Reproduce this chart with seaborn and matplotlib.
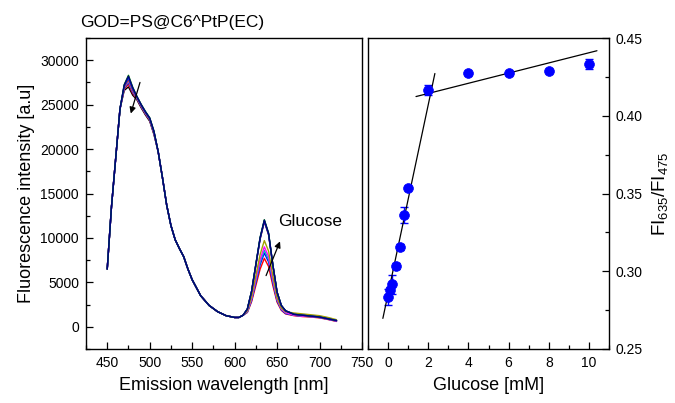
import numpy as np
import pandas as pd
import matplotlib
matplotlib.use("Agg")
import matplotlib.pyplot as plt
import seaborn as sns
from matplotlib.ticker import MultipleLocator

sns.set_theme(style="ticks")
plt.rcParams['font.family'] = ['Liberation Sans', 'DejaVu Sans']
plt.rcParams['mathtext.fontset'] = 'custom'
plt.rcParams['mathtext.rm'] = 'Liberation Sans'
plt.rcParams['mathtext.it'] = 'Liberation Sans:italic'
plt.rcParams['text.color'] = 'black'
plt.rcParams['axes.labelcolor'] = 'black'
plt.rcParams['xtick.color'] = 'black'
plt.rcParams['ytick.color'] = 'black'

# ---------------- data: spectra ----------------
wavelength = [450, 455, 460, 465, 470, 475, 480, 485, 490, 495, 500, 505, 510, 515, 520, 525,
              530, 535, 540, 545, 550, 560, 570, 580, 590, 600, 605, 610, 615, 620, 625, 630,
              635, 640, 645, 650, 655, 660, 670, 680, 690, 700, 710, 720]

spec_black = [6500, 13500, 19000, 24500, 26600, 27000, 26060, 25540, 24640, 23840, 23140, 21640,
              19700, 16800, 13700, 11400, 9800, 8800, 7900, 6500, 5300, 3500, 2400, 1700, 1250, 1050, 1050, 1300,
              1990, 3980, 6950, 9900, 11900, 10400, 6950, 3880, 2390, 1790, 1400, 1300, 1200, 1100, 900, 700]
spec_red = [6500, 13500, 19000, 24500, 26750, 27300, 26270, 25630, 24730, 23930, 23230, 21730,
            19700, 16800, 13700, 11400, 9800, 8800, 7900, 6500, 5300, 3500, 2400, 1700, 1250, 1050, 1050, 1300,
            1610, 2830, 4650, 6480, 7700, 6790, 4650, 2770, 1850, 1450, 1250, 1150, 1100, 1000, 820, 600]
spec_blue = [6500, 13500, 19000, 24500, 26850, 27500, 26410, 25690, 24790, 23990, 23290, 21790,
             19700, 16800, 13700, 11400, 9800, 8800, 7900, 6500, 5300, 3500, 2400, 1700, 1250, 1050, 1050, 1300,
             1660, 2990, 4980, 6970, 8300, 7300, 4980, 2930, 1930, 1500, 1300, 1200, 1150, 1050, 850, 650]
spec_cyan = [6500, 13500, 19000, 24500, 26900, 27600, 26480, 25720, 24820, 24020, 23320, 21820,
             19700, 16800, 13700, 11400, 9800, 8800, 7900, 6500, 5300, 3500, 2400, 1700, 1250, 1050, 1050, 1300,
             1690, 3070, 5150, 7220, 8600, 7560, 5150, 3000, 1970, 1550, 1300, 1200, 1150, 1050, 850, 650]
spec_magenta = [6500, 13500, 19000, 24500, 26950, 27700, 26550, 25750, 24850, 24050, 23350, 21850,
                19700, 16800, 13700, 11400, 9800, 8800, 7900, 6500, 5300, 3500, 2400, 1700, 1250, 1050, 1050, 1300,
                1730, 3180, 5360, 7550, 9000, 7910, 5360, 3110, 2020, 1600, 1300, 1200, 1150, 1050, 850, 650]
spec_olive = [6500, 13500, 19000, 24500, 27000, 27800, 26620, 25780, 24880, 24080, 23380, 21880,
              19700, 16800, 13700, 11400, 9800, 8800, 7900, 6500, 5300, 3500, 2400, 1700, 1250, 1050, 1050, 1300,
              1790, 3370, 5750, 8120, 9700, 8510, 5750, 3290, 2110, 1700, 1550, 1450, 1350, 1250, 1050, 800]
spec_purple = [6500, 13500, 19000, 24500, 27050, 27900, 26690, 25810, 24910, 24110, 23410, 21910,
               19700, 16800, 13700, 11400, 9800, 8800, 7900, 6500, 5300, 3500, 2400, 1700, 1250, 1050, 1050, 1300,
               1980, 3950, 6900, 9850, 11800, 10350, 6900, 3850, 2380, 1780, 1400, 1300, 1200, 1100, 900, 700]
spec_royal = [6500, 13500, 19000, 24500, 27130, 28050, 26800, 25860, 24960, 24160, 23460, 21960,
              19700, 16800, 13700, 11400, 9800, 8800, 7900, 6500, 5300, 3500, 2400, 1700, 1250, 1050, 1050, 1300,
              2000, 4000, 7000, 9980, 11950, 10450, 6980, 3900, 2400, 1800, 1400, 1300, 1200, 1100, 900, 700]
spec_green = [6500, 13500, 19000, 24500, 27250, 28300, 26970, 25930, 25030, 24230, 23530, 22030,
              19700, 16800, 13700, 11400, 9800, 8800, 7900, 6500, 5300, 3500, 2400, 1700, 1250, 1050, 1050, 1300,
              2000, 4000, 7050, 10050, 12050, 10550, 7000, 3900, 2400, 1800, 1400, 1300, 1200, 1100, 900, 700]
spec_navy = [6500, 13500, 19000, 24500, 27200, 28200, 26900, 25900, 25000, 24200, 23500, 22000,
             19700, 16800, 13700, 11400, 9800, 8800, 7900, 6500, 5300, 3500, 2400, 1700, 1250, 1050, 1050, 1300,
             2000, 4000, 7000, 10000, 12000, 10500, 7000, 3900, 2400, 1800, 1400, 1300, 1200, 1100, 900, 700]

curve_names = ["black", "red", "blue", "cyan", "magenta", "olive", "purple", "royal", "green", "navy"]
curve_values = [spec_black, spec_red, spec_blue, spec_cyan, spec_magenta, spec_olive,
                spec_purple, spec_royal, spec_green, spec_navy]
curve_colors = ["#000000", "#FF0000", "#0000FF", "#00B0C8", "#FF00FF", "#A0A000",
                "#800080", "#0040FF", "#008000", "#000080"]

# ---------------- data: ratio vs glucose ----------------
glucose = [0, 0.1, 0.2, 0.4, 0.6, 0.8, 1.0, 2, 4, 6, 8, 10]
ratio = [0.2836, 0.2880, 0.2916, 0.3034, 0.3158, 0.3362, 0.3537, 0.4166, 0.4273, 0.4273, 0.4288, 0.4333]
ratio_err = [0.005, 0.002, 0.006, 0.002, 0.002, 0.005, 0.001, 0.003, 0.001, 0.001, 0.001, 0.003]

fit1_x = [-0.26, 2.33]
fit1_slope, fit1_intercept = 0.0608, 0.2855
fit2_x = [1.39, 10.4]
fit2_slope, fit2_intercept = 0.00327, 0.4078

# ---------------- figure ----------------
fig = plt.figure(figsize=(6.75, 4.03), dpi=100)
axL = fig.add_axes([86/675, 1-349/403, (362-86)/675, (349-38)/403])
axR = fig.add_axes([368/675, 1-349/403, (609-368)/675, (349-38)/403])

rows = []
for name, vals in zip(curve_names, curve_values):
    for w, v in zip(wavelength, vals):
        rows.append((name, w, v))
df = pd.DataFrame(rows, columns=["curve", "wavelength", "intensity"])
sns.lineplot(data=df, x="wavelength", y="intensity", hue="curve", hue_order=curve_names,
             palette=dict(zip(curve_names, curve_colors)), estimator=None, sort=False,
             linewidth=1.0, legend=False, ax=axL)

axL.set_xlim(425, 750)
axL.set_ylim(-2500, 32500)
axL.xaxis.set_major_locator(MultipleLocator(50))
axL.xaxis.set_minor_locator(MultipleLocator(25))
axL.yaxis.set_major_locator(MultipleLocator(5000))
axL.yaxis.set_minor_locator(MultipleLocator(2500))
axL.set_xlabel("Emission wavelength [nm]", fontsize=13, labelpad=5)
axL.set_ylabel("Fluorescence intensity [a.u]", fontsize=13, labelpad=4)

axL.annotate("", xy=(476.8, 23700), xytext=(489.5, 27800),
             arrowprops=dict(arrowstyle="-|>", color="black", lw=0.9, mutation_scale=9))
axL.annotate("", xy=(654.7, 9900), xytext=(635.8, 5470),
             arrowprops=dict(arrowstyle="-|>", color="black", lw=0.9, mutation_scale=9))
axL.text(651, 11900, "Glucose", fontsize=12.5, va="center", ha="left")

# right panel
dfr = pd.DataFrame({"glucose": glucose, "ratio": ratio})
axR.errorbar(glucose, ratio, yerr=ratio_err, fmt="none", ecolor="#0000FF", elinewidth=1.0,
             capsize=3, capthick=1.0, zorder=2)
sns.scatterplot(data=dfr, x="glucose", y="ratio", color="#0000FF", s=50, edgecolor="#0000FF",
                linewidth=0.5, ax=axR, zorder=3)
f1 = pd.DataFrame({"x": fit1_x, "y": [fit1_intercept + fit1_slope * x for x in fit1_x]})
f2 = pd.DataFrame({"x": fit2_x, "y": [fit2_intercept + fit2_slope * x for x in fit2_x]})
sns.lineplot(data=f1, x="x", y="y", color="black", linewidth=0.9, ax=axR)
sns.lineplot(data=f2, x="x", y="y", color="black", linewidth=0.9, ax=axR)

axR.set_xlim(-1, 11)
axR.set_ylim(0.25, 0.45)
axR.xaxis.set_major_locator(MultipleLocator(2))
axR.xaxis.set_minor_locator(MultipleLocator(1))
axR.yaxis.set_major_locator(MultipleLocator(0.05))
axR.yaxis.set_minor_locator(MultipleLocator(0.025))
axR.yaxis.tick_right()
axR.yaxis.set_label_position("right")
axR.yaxis.set_major_formatter(matplotlib.ticker.FormatStrFormatter("%.2f"))
axR.set_xlabel("Glucose [mM]", fontsize=13, labelpad=5)
axR.set_ylabel("FI$_{635}$/FI$_{475}$", fontsize=13.5, labelpad=5)

for ax in (axL, axR):
    for sp in ax.spines.values():
        sp.set_visible(True)
        sp.set_linewidth(1.0)
        sp.set_color("black")
    ax.tick_params(axis="both", which="major", direction="in", length=5, width=0.9,
                   labelsize=10, colors="black", pad=5)
    ax.tick_params(axis="both", which="minor", direction="in", length=3, width=0.9)
    ax.set_facecolor("white")

axL.tick_params(axis="both", which="both", top=False, right=False)
axR.tick_params(axis="both", which="both", top=False, left=False, right=True, labelleft=False, labelright=True)

fig.text(80/675, 1-22/403, "GOD=PS@C6^PtP(EC)", fontsize=12.5, ha="left", va="center")

fig.savefig("out.png", dpi=100, facecolor="white")
